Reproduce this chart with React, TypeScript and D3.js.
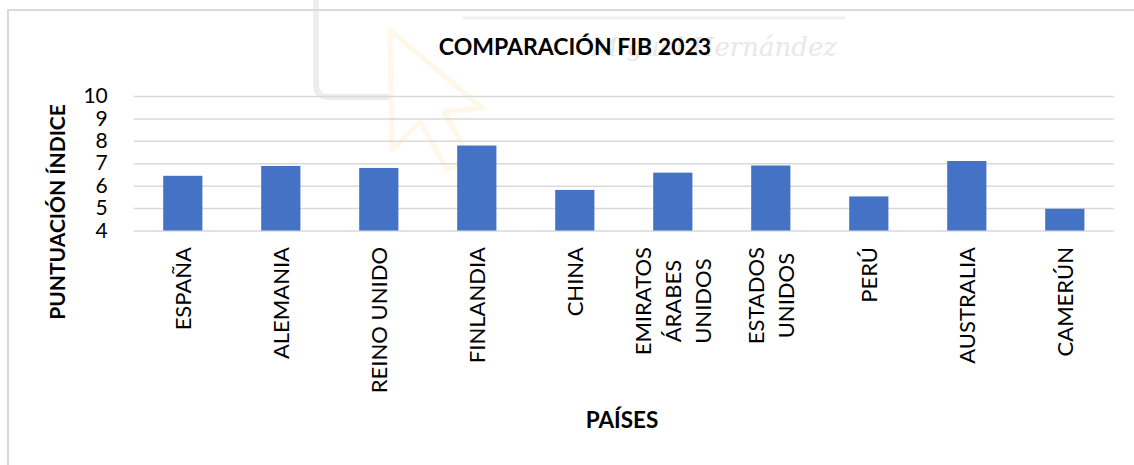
import * as d3 from 'd3';
import React, { useRef, useEffect } from 'react';

const countries = [
  "ESPAÑA", "ALEMANIA", "REINO UNIDO", "FINLANDIA", "CHINA",
  "EMIRATOS\nÁRABES\nUNIDOS", "ESTADOS\nUNIDOS", "PERÚ", "AUSTRALIA", "CAMERÚN",
];
const scores = [6.44, 6.88, 6.79, 7.79, 5.81, 6.58, 6.9, 5.52, 7.1, 4.97];
const yTicks = [4, 5, 6, 7, 8, 9, 10];

const W = 1134;
const H = 465;
const plot = { left: 133.8, right: 1113.8, top: 96, bottom: 230.5 };
const FONT = "Lato, 'Open Sans', sans-serif";

function App() {
  const ref = useRef<SVGSVGElement>(null);

  useEffect(() => {
    const svg = d3.select(ref.current);
    svg.selectAll('*').remove();
    draw(svg);
  });

  const draw = (svg: any) => {
    svg.append('rect').attr('width', W).attr('height', H).attr('fill', '#fff');

    // watermark (faint)
    const wm = svg.append('g').attr('fill', 'none');
    wm.append('path')
      .attr('d', 'M316,0 V84 Q316,97 329,97 H392')
      .attr('stroke', '#ededed').attr('stroke-width', 6);
    wm.append('line')
      .attr('x1', 463).attr('x2', 845).attr('y1', 18).attr('y2', 18)
      .attr('stroke', '#efefef').attr('stroke-width', 3);
    wm.append('path')
      .attr('d', 'M390,30 L392,150 L420,122 L448,170 L470,158 L444,112 L482,108 Z')
      .attr('stroke', '#fef7ea').attr('stroke-width', 5).attr('stroke-linejoin', 'round');
    wm.append('text')
      .attr('x', 837).attr('y', 56).attr('text-anchor', 'end')
      .attr('font-family', "'DejaVu Serif', serif").attr('font-style', 'italic')
      .attr('font-size', 26).attr('fill', '#e8e8e8')
      .text('Miguel Hernández');

    // chart area border (cropped on right/bottom)
    svg.append('path')
      .attr('d', `M8,${H} V10 H${W}`)
      .attr('fill', 'none').attr('stroke', '#d9d9d9').attr('stroke-width', 2);

    const x = d3.scaleBand()
      .domain(countries)
      .range([plot.left, plot.right])
      .paddingInner(0.6)
      .paddingOuter(0.3);

    const y = d3.scaleLinear()
      .domain([4, 10])
      .range([plot.bottom, plot.top]);

    // gridlines + y labels
    const yAxis = svg.append('g')
      .attr('transform', `translate(${plot.left},0)`)
      .call(d3.axisLeft(y).tickValues(yTicks).tickSize(-(plot.right - plot.left)).tickPadding(26).tickFormat(d3.format('d')));
    yAxis.select('.domain').remove();
    yAxis.selectAll('line').attr('stroke', '#d9d9d9').attr('stroke-width', 1.5);
    yAxis.selectAll('text')
      .attr('font-family', FONT).attr('font-size', 21).attr('fill', '#000');

    // bars
    svg.append('g')
      .selectAll('rect')
      .data(countries)
      .enter()
      .append('rect')
      .attr('x', (d: string) => x(d))
      .attr('y', (d: string, i: number) => y(scores[i]))
      .attr('width', x.bandwidth())
      .attr('height', (d: string, i: number) => y(4) - y(scores[i]))
      .attr('fill', '#4472C4');

    // x labels (rotated, multi-line centred, longest line ends near the axis)
    const lineH = 30;
    const labelTop = 247;
    const xl = svg.append('g');
    countries.forEach((c) => {
      const lines = c.split('\n');
      const cx = (x(c) as number) + x.bandwidth() / 2;
      const g = xl.append('g');
      const texts = lines.map((ln) =>
        g.append('text')
          .attr('font-family', FONT).attr('font-size', 22).attr('fill', '#000')
          .attr('text-anchor', 'middle')
          .attr('dy', '0.35em')
          .text(ln)
      );
      const maxLen = d3.max(texts, (t: any) => (t.node() as SVGTextElement).getComputedTextLength()) || 0;
      const cy = labelTop + maxLen / 2;
      texts.forEach((t: any, k: number) => {
        const lx = cx + (k - (lines.length - 1) / 2) * lineH;
        t.attr('transform', `translate(${lx},${cy}) rotate(-90)`);
      });
    });

    // titles
    svg.append('text')
      .attr('x', 575).attr('y', 55).attr('text-anchor', 'middle')
      .attr('font-family', FONT).attr('font-weight', 'bold').attr('font-size', 23)
      .text('COMPARACIÓN FIB 2023');

    svg.append('text')
      .attr('transform', 'translate(58,212) rotate(-90)')
      .attr('text-anchor', 'middle').attr('dy', '0.35em')
      .attr('font-family', FONT).attr('font-weight', 'bold').attr('font-size', 21)
      .text('PUNTUACIÓN ÍNDICE');

    svg.append('text')
      .attr('x', 622).attr('y', 428).attr('text-anchor', 'middle')
      .attr('font-family', FONT).attr('font-weight', 'bold').attr('font-size', 22.5)
      .text('PAÍSES');
  };

  return (
    <svg ref={ref} width={W} height={H} style={{ position: 'absolute', left: 0, top: 0 }}></svg>
  );
}

export default App;
